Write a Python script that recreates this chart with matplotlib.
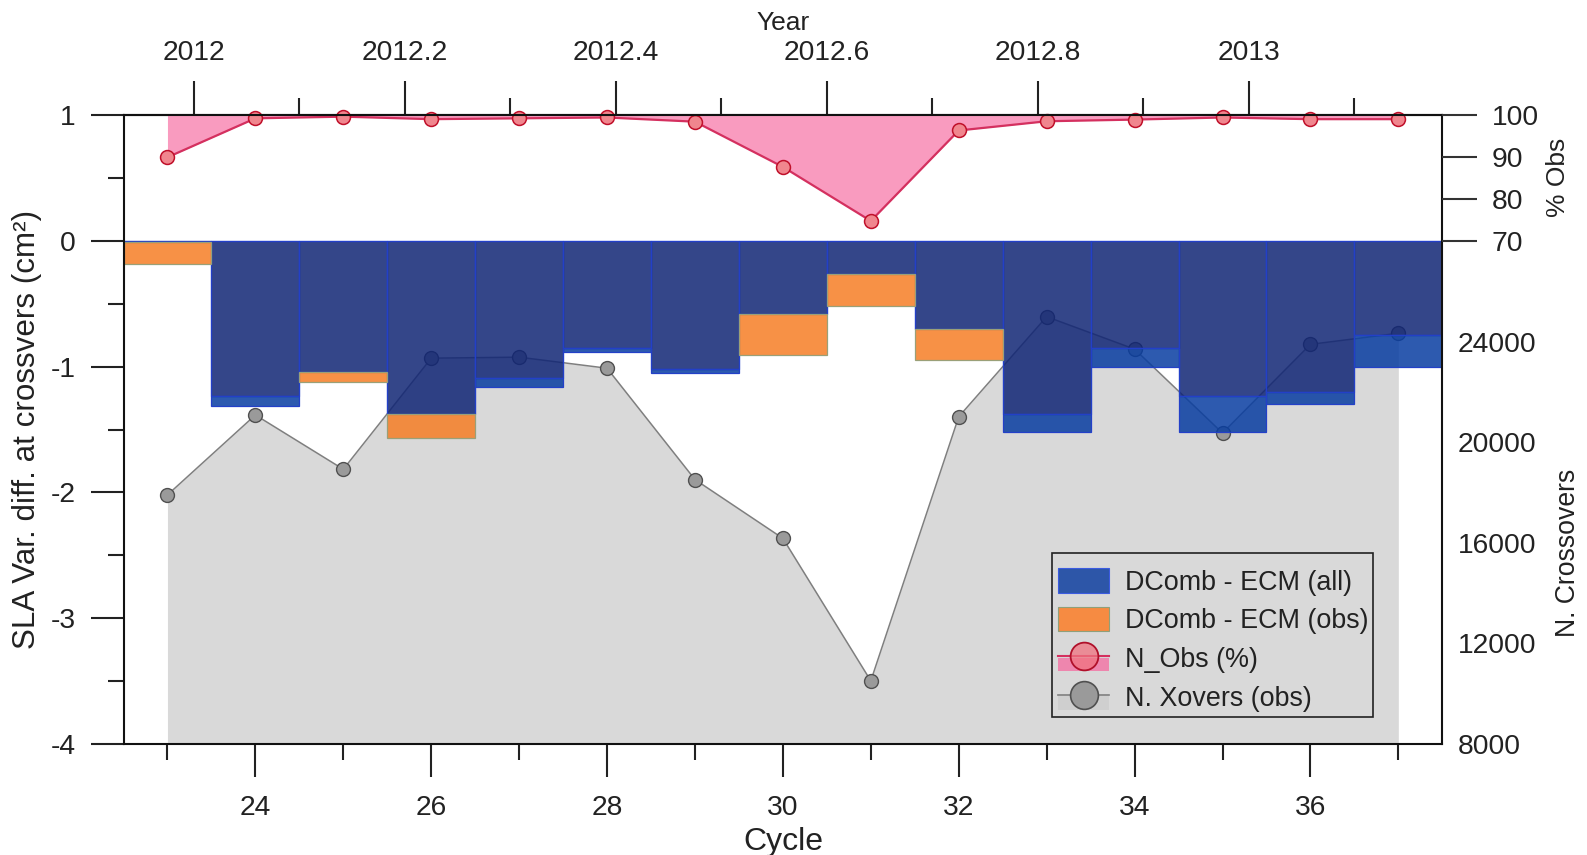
import numpy as np
import matplotlib
matplotlib.use("Agg")
import matplotlib.pyplot as plt
from matplotlib.patches import Patch, Rectangle
from matplotlib.lines import Line2D
from matplotlib.legend_handler import HandlerPatch

plt.rcParams['font.family'] = ['Liberation Sans', 'DejaVu Sans']
TXT = '#222222'
plt.rcParams['text.color'] = TXT
plt.rcParams['axes.labelcolor'] = TXT
plt.rcParams['xtick.color'] = TXT
plt.rcParams['ytick.color'] = TXT

# ---------------- data ----------------
cycles = np.array([23, 24, 25, 26, 27, 28, 29, 30, 31, 32, 33, 34, 35, 36, 37])
diff_all = np.array([-0.01, -1.31, -1.04, -1.38, -1.16, -0.88, -1.05, -0.58, -0.26,
                     -0.70, -1.52, -1.00, -1.52, -1.30, -1.00])
diff_obs = np.array([-0.18, -1.23, -1.12, -1.57, -1.09, -0.85, -1.02, -0.91, -0.52,
                     -0.95, -1.38, -0.85, -1.23, -1.20, -0.75])
pct_obs = np.array([90.0, 99.3, 99.7, 99.1, 99.3, 99.5, 98.5, 87.7, 74.8, 96.4,
                    98.6, 99.0, 99.5, 99.1, 99.1])
n_xovers = np.array([17900, 21080, 18920, 23340, 23380, 22940, 18510, 16170, 10500,
                     21010, 24990, 23700, 20360, 23890, 24330])

cycle_major = [24, 26, 28, 30, 32, 34, 36]
cycle_minor = [23, 25, 27, 29, 31, 33, 35, 37]
year_major = [2012.0, 2012.2, 2012.4, 2012.6, 2012.8, 2013.0]
year_major_lbl = ['2012', '2012.2', '2012.4', '2012.6', '2012.8', '2013']
year_minor = [2012.1, 2012.3, 2012.5, 2012.7, 2012.9, 2013.1]
left_ticks = [-4, -3, -2, -1, 0, 1]
left_minor = [-3.5, -2.5, -1.5, -0.5, 0.5]
pct_ticks = [70, 80, 90, 100]
xov_ticks = [8000, 12000, 16000, 20000, 24000]

# ---------------- scale mappings ----------------
def cyc2yr(c):
    return 2012 + (np.asarray(c) - 23.30) / 12.0

def yr2cyc(y):
    return 23.30 + (np.asarray(y) - 2012) * 12.0

def pct2y(p):
    return 1 + (np.asarray(p, dtype=float) - 100) / 30.0

def xov2y(n):
    return (np.asarray(n, dtype=float) - 28000) / 5000.0

# ---------------- figure ----------------
W, H = 1587, 855
fig = plt.figure(figsize=(W / 100, H / 100), dpi=100)
L, R, T, B = 123.5, 1442.3, 115.4, 743.7
ax = fig.add_axes([L / W, 1 - B / H, (R - L) / W, (B - T) / H])
ax.set_xlim(22.5, 37.5)
ax.set_ylim(-4, 1)

def axfx(px):
    return (px - L) / (R - L)

def axfy(py):
    return (B - py) / (B - T)

TICK_FS = 20.3

# colours
c_navy = (16/255, 37/255, 117/255, 0.85)
c_blue = (8/255, 61/255, 161/255, 0.85)
c_orange = (246/255, 126/255, 37/255, 0.85)
c_edge_blue = '#2340C8'
c_edge_or = '#9AA078'

# crossovers (grey)
yx = xov2y(n_xovers)
ax.fill_between(cycles, yx, -4, color='#D9D9D9', lw=0, zorder=1)
ax.plot(cycles, yx, color='#7F7F7F', lw=1.1, marker='o', ms=10, mfc='#9A9A9A',
        mec='#505050', mew=1.0, zorder=2)

# bars
overlap = np.maximum(diff_all, diff_obs)
ext = np.minimum(diff_all, diff_obs) - overlap
ext_colors = [c_blue if a < o else c_orange for a, o in zip(diff_all, diff_obs)]
ext_edges = [c_edge_blue if a < o else c_edge_or for a, o in zip(diff_all, diff_obs)]
ax.bar(cycles, overlap, width=1.0, color=c_navy, edgecolor=c_edge_blue, lw=1.0, zorder=3)
ax.bar(cycles, ext, width=1.0, bottom=overlap, color=ext_colors, edgecolor=ext_edges,
       lw=0.9, zorder=3)

# % obs (pink)
yp = pct2y(pct_obs)
ax.fill_between(cycles, yp, 1, color='#F99BBF', lw=0, zorder=4)
ax.plot(cycles, yp, color='#D4305F', lw=1.6, marker='o', ms=10, mfc='#F0868E',
        mec='#C0102A', mew=1.1, zorder=5, clip_on=False)

# ---------------- axes styling ----------------
for s in ax.spines.values():
    s.set_linewidth(1.5)
    s.set_color('#111111')
    s.set_zorder(6)

ax.set_xticks(cycle_major)
ax.set_xticklabels([str(c) for c in cycle_major])
ax.set_xticks(cycle_minor, minor=True)
ax.set_yticks(left_ticks)
ax.set_yticklabels([str(v) for v in left_ticks])
ax.set_yticks(left_minor, minor=True)
ax.tick_params(axis='x', which='major', length=24, width=1.5, direction='out',
               pad=13.0, labelsize=TICK_FS)
ax.tick_params(axis='x', which='minor', length=11.5, width=1.5, direction='out')
ax.tick_params(axis='y', which='major', length=24, width=1.5, direction='out',
               pad=10.5, labelsize=TICK_FS)
ax.tick_params(axis='y', which='minor', length=11.5, width=1.5, direction='out')

ax.set_xlabel('Cycle', fontsize=23, va='center')
ax.xaxis.set_label_coords(0.5, axfy(842))
ax.set_ylabel('SLA Var. diff. at crossvers (cm²)', fontsize=22.6, va='center')
ax.yaxis.set_label_coords(axfx(27), 0.5)

# top year axis
sec = ax.secondary_xaxis('top', functions=(cyc2yr, yr2cyc))
sec.set_xticks(year_major)
sec.set_xticklabels(year_major_lbl)
sec.set_xticks(year_minor, minor=True)
sec.tick_params(axis='x', which='major', length=24.5, width=1.5, direction='out',
                pad=11.0, labelsize=TICK_FS)
sec.tick_params(axis='x', which='minor', length=12.5, width=1.5, direction='out')
sec.spines['top'].set_linewidth(1.5)
ax.text(0.5, axfy(23), 'Year', transform=ax.transAxes, fontsize=19,
        ha='center', va='center')

# right % obs axis
axp = ax.twinx()
axp.set_ylim(-4, 1)
axp.set_yticks(pct2y(pct_ticks))
axp.set_yticklabels([str(p) for p in pct_ticks])
axp.tick_params(axis='y', which='major', length=25, width=1.5, direction='out',
                pad=10.5, labelsize=TICK_FS, colors='#333333', labelcolor=TXT)
for s in axp.spines.values():
    s.set_visible(False)
axp.text(axfx(1558), axfy(177), '% Obs', transform=axp.transAxes,
         rotation=90, fontsize=19, ha='center', va='center')

# right crossovers axis
axn = ax.twinx()
axn.set_ylim(-4, 1)
axn.set_yticks(xov2y(xov_ticks))
axn.set_yticklabels([str(n) for n in xov_ticks])
axn.tick_params(axis='y', which='major', length=0, pad=11.0, labelsize=TICK_FS,
                labelcolor=TXT)
for s in axn.spines.values():
    s.set_visible(False)
axn.text(axfx(1568), axfy(553), 'N. Crossovers',
         transform=axn.transAxes, rotation=90, fontsize=19.2, ha='center', va='center')

# ---------------- legend ----------------
def lower_rect(legend, orig_handle, xdescent, ydescent, width, height, fontsize):
    return Rectangle((-xdescent, -ydescent - 0.05 * height), width, 0.55 * height)

h_all = Patch(facecolor='#2D56A8', edgecolor='#3B5BE0', lw=0.8)
h_obs = Patch(facecolor='#F68B42', edgecolor='#8FA07A', lw=0.8)
p_pink = Patch(facecolor='#EE86AE', edgecolor='none')
l_pink = Line2D([], [], color='#D4305F', lw=1.5, marker='o', ms=20, mfc=(0.94, 0.45, 0.5, 0.75),
                mec='#B0102A', mew=1.3)
p_grey = Patch(facecolor='#CFCFCF', edgecolor='none')
l_grey = Line2D([], [], color='#7F7F7F', lw=1.2, marker='o', ms=20, mfc='#9A9A9A',
                mec='#505050', mew=1.2)

leg = ax.legend([h_all, h_obs, (p_pink, l_pink), (p_grey, l_grey)],
                ['DComb - ECM (all)', 'DComb - ECM (obs)', 'N_Obs (%)', 'N. Xovers (obs)'],
                handler_map={p_pink: HandlerPatch(patch_func=lower_rect),
                             p_grey: HandlerPatch(patch_func=lower_rect)},
                loc='upper left',
                bbox_to_anchor=(axfx(1058), axfy(568)),
                borderaxespad=0, fontsize=19.4, handlelength=1.9, handleheight=1.04,
                handletextpad=0.6, labelspacing=0.41, borderpad=0.0,
                frameon=False)
leg.set_zorder(10)

# legend frame
ax.add_patch(Rectangle((axfx(1052), axfy(717)), axfx(1373) - axfx(1052),
                       axfy(553) - axfy(717), transform=ax.transAxes, fill=False,
                       edgecolor='#222222', lw=1.2, zorder=9))

fig.savefig('out.png', dpi=100)
